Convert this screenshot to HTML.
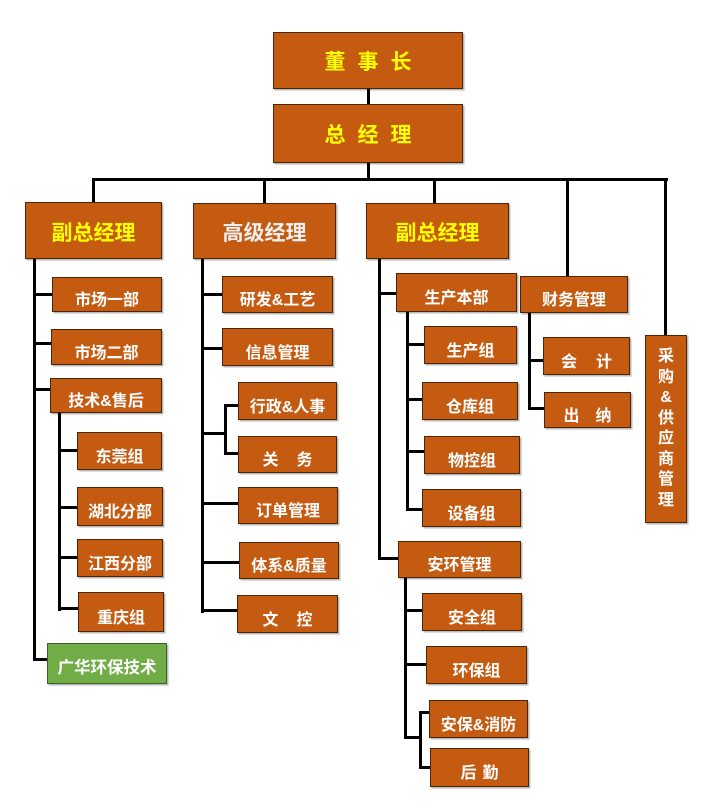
<!DOCTYPE html>
<html><head><meta charset="utf-8">
<style>
html,body{margin:0;padding:0;background:#fff;}
body{width:705px;height:810px;position:relative;overflow:hidden;font-family:"Liberation Sans","Noto Sans CJK SC","WenQuanYi Zen Hei",sans-serif;}
.b{position:absolute;box-sizing:border-box;background:#c55a11;border:1px solid #4a2508;box-shadow:1.5px 1.5px 1px rgba(0,0,0,0.28);color:#fff;font-weight:bold;font-size:16px;display:flex;align-items:center;justify-content:center;padding-top:7px;white-space:nowrap;}
.big{font-size:21px;color:#ffff00;padding-top:2px;}
.top{font-size:21px;color:#ffff00;padding-top:0;}
.top span{margin:0 6px;}
.g{background:#70ad47;border-color:#3d5f26;}
.l{position:absolute;background:#000;}
.sp span{display:inline-block;}
</style></head><body>

<!-- lines -->
<div class="l" style="left:367px;top:89px;width:3px;height:15px"></div>
<div class="l" style="left:367px;top:163px;width:3px;height:16px"></div>
<div class="l" style="left:92px;top:178px;width:576px;height:3px"></div>
<div class="l" style="left:92px;top:178px;width:3px;height:25px"></div>
<div class="l" style="left:263px;top:178px;width:3px;height:26px"></div>
<div class="l" style="left:433px;top:178px;width:3px;height:26px"></div>
<div class="l" style="left:566px;top:178px;width:3px;height:99px"></div>
<div class="l" style="left:664px;top:178px;width:3px;height:158px"></div>

<!-- left column lines -->
<div class="l" style="left:33px;top:259px;width:3px;height:402px"></div>
<div class="l" style="left:33px;top:293px;width:19px;height:3px"></div>
<div class="l" style="left:33px;top:342px;width:19px;height:3px"></div>
<div class="l" style="left:33px;top:388px;width:18px;height:3px"></div>
<div class="l" style="left:33px;top:658px;width:15px;height:3px"></div>
<div class="l" style="left:58px;top:413px;width:3px;height:198px"></div>
<div class="l" style="left:58px;top:449px;width:20px;height:3px"></div>
<div class="l" style="left:58px;top:506px;width:20px;height:3px"></div>
<div class="l" style="left:58px;top:556px;width:20px;height:3px"></div>
<div class="l" style="left:58px;top:607px;width:21px;height:3px"></div>

<!-- middle column lines -->
<div class="l" style="left:201px;top:259px;width:3px;height:354px"></div>
<div class="l" style="left:201px;top:293px;width:22px;height:3px"></div>
<div class="l" style="left:201px;top:347px;width:22px;height:3px"></div>
<div class="l" style="left:201px;top:432px;width:25px;height:3px"></div>
<div class="l" style="left:224px;top:404px;width:3px;height:51px"></div>
<div class="l" style="left:224px;top:404px;width:15px;height:3px"></div>
<div class="l" style="left:224px;top:452px;width:15px;height:3px"></div>
<div class="l" style="left:201px;top:502px;width:38px;height:3px"></div>
<div class="l" style="left:201px;top:561px;width:39px;height:3px"></div>
<div class="l" style="left:201px;top:609px;width:37px;height:3px"></div>

<!-- right column lines -->
<div class="l" style="left:378px;top:259px;width:3px;height:301px"></div>
<div class="l" style="left:378px;top:292px;width:19px;height:3px"></div>
<div class="l" style="left:378px;top:557px;width:21px;height:3px"></div>
<div class="l" style="left:406px;top:312px;width:3px;height:199px"></div>
<div class="l" style="left:406px;top:343px;width:19px;height:3px"></div>
<div class="l" style="left:406px;top:398px;width:17px;height:3px"></div>
<div class="l" style="left:406px;top:450px;width:19px;height:3px"></div>
<div class="l" style="left:406px;top:508px;width:17px;height:3px"></div>
<div class="l" style="left:404px;top:578px;width:3px;height:161px"></div>
<div class="l" style="left:404px;top:609px;width:19px;height:3px"></div>
<div class="l" style="left:404px;top:663px;width:23px;height:3px"></div>
<div class="l" style="left:404px;top:736px;width:18px;height:3px"></div>
<div class="l" style="left:419px;top:711px;width:3px;height:58px"></div>
<div class="l" style="left:419px;top:711px;width:11px;height:3px"></div>
<div class="l" style="left:419px;top:766px;width:12px;height:3px"></div>

<!-- finance lines -->
<div class="l" style="left:528px;top:313px;width:3px;height:97px"></div>
<div class="l" style="left:528px;top:359px;width:16px;height:3px"></div>
<div class="l" style="left:528px;top:407px;width:17px;height:3px"></div>

<!-- boxes -->
<div class="b top" style="left:273px;top:32px;width:190px;height:57px"><span>董</span><span>事</span><span>长</span></div>
<div class="b top" style="left:273px;top:104px;width:190px;height:59px"><span>总</span><span>经</span><span>理</span></div>

<div class="b big" style="left:25px;top:202px;width:137px;height:57px">副总经理</div>
<div class="b big" style="left:193px;top:203px;width:143px;height:56px;color:#efefef">高级经理</div>
<div class="b big" style="left:366px;top:203px;width:143px;height:56px">副总经理</div>

<div class="b" style="left:52px;top:277px;width:110px;height:35px">市场一部</div>
<div class="b" style="left:51px;top:329px;width:111px;height:36px">市场二部</div>
<div class="b" style="left:50px;top:378px;width:112px;height:35px">技术&amp;售后</div>
<div class="b" style="left:77px;top:432px;width:85px;height:38px">东莞组</div>
<div class="b" style="left:77px;top:487px;width:86px;height:39px">湖北分部</div>
<div class="b" style="left:77px;top:539px;width:86px;height:38px">江西分部</div>
<div class="b" style="left:78px;top:592px;width:86px;height:40px">重庆组</div>
<div class="b g" style="left:47px;top:643px;width:120px;height:41px;font-size:16.5px;padding-top:4px">广华环保技术</div>

<div class="b" style="left:222px;top:276px;width:111px;height:37px">研发&amp;工艺</div>
<div class="b" style="left:222px;top:328px;width:111px;height:38px">信息管理</div>
<div class="b" style="left:238px;top:382px;width:99px;height:38px">行政&amp;人事</div>
<div class="b sp" style="left:238px;top:436px;width:99px;height:37px"><span>关</span><span style="margin-left:18px">务</span></div>
<div class="b" style="left:238px;top:487px;width:100px;height:37px">订单管理</div>
<div class="b" style="left:239px;top:542px;width:100px;height:37px">体系&amp;质量</div>
<div class="b sp" style="left:237px;top:595px;width:101px;height:38px"><span>文</span><span style="margin-left:18px">控</span></div>

<div class="b" style="left:396px;top:273px;width:121px;height:39px">生产本部</div>
<div class="b" style="left:424px;top:326px;width:93px;height:38px">生产组</div>
<div class="b" style="left:422px;top:382px;width:96px;height:38px">仓库组</div>
<div class="b" style="left:424px;top:436px;width:96px;height:38px">物控组</div>
<div class="b" style="left:422px;top:489px;width:99px;height:38px">设备组</div>
<div class="b" style="left:398px;top:541px;width:123px;height:37px">安环管理</div>
<div class="b" style="left:422px;top:593px;width:100px;height:38px">安全组</div>
<div class="b" style="left:426px;top:646px;width:101px;height:38px">环保组</div>
<div class="b" style="left:429px;top:700px;width:99px;height:38px">安保&amp;消防</div>
<div class="b sp" style="left:430px;top:748px;width:99px;height:39px"><span>后</span><span style="margin-left:6px">勤</span></div>

<div class="b" style="left:520px;top:276px;width:108px;height:37px">财务管理</div>
<div class="b sp" style="left:543px;top:337px;width:87px;height:38px"><span>会</span><span style="margin-left:19px">计</span></div>
<div class="b sp" style="left:544px;top:392px;width:87px;height:36px"><span>出</span><span style="margin-left:16px">纳</span></div>

<div class="b" style="left:645px;top:335px;width:42px;height:188px;padding-top:0;flex-direction:column;line-height:20.5px">
<span>采</span><span>购</span><span>&amp;</span><span>供</span><span>应</span><span>商</span><span>管</span><span>理</span>
</div>

</body></html>
